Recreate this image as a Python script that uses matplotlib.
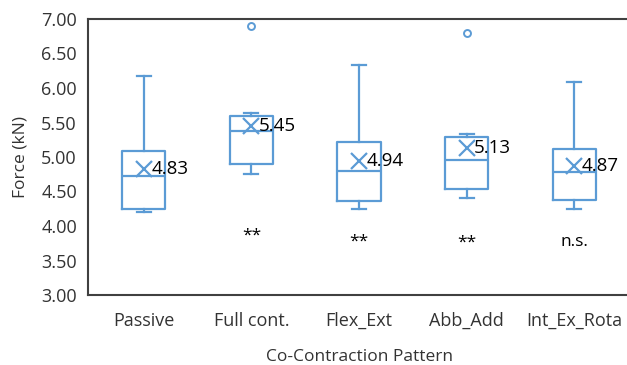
import matplotlib
matplotlib.use("Agg")
import matplotlib.pyplot as plt

plt.rcParams['font.family'] = ['Open Sans', 'DejaVu Sans']

categories = ["Passive", "Full cont.", "Flex_Ext", "Abb_Add", "Int_Ex_Rota"]
whisker_low = [4.21, 4.75, 4.25, 4.40, 4.24]
q1 = [4.25, 4.90, 4.36, 4.54, 4.37]
medians = [4.73, 5.37, 4.80, 4.95, 4.78]
q3 = [5.08, 5.60, 5.22, 5.29, 5.12]
whisker_high = [6.18, 5.64, 6.33, 5.33, 6.08]
means = [4.83, 5.45, 4.94, 5.13, 4.87]
outliers = [[], [6.90], [], [6.79], []]
significance = ["", "**", "**", "**", "n.s."]
sig_y = [3.86, 3.86, 3.77, 3.76, 3.77]

blue = "#5B9BD5"
text_col = "#333333"

fig = plt.figure(figsize=(6.27, 3.65), dpi=100)
ax = fig.add_axes([88 / 627, 1 - 295 / 365, 542 / 627, 276 / 365])

stats = []
for i, name in enumerate(categories):
    stats.append(dict(label=name, whislo=whisker_low[i], q1=q1[i], med=medians[i],
                      q3=q3[i], whishi=whisker_high[i], mean=means[i],
                      fliers=outliers[i]))

positions = list(range(1, len(categories) + 1))
line_kw = dict(color=blue, linewidth=1.6)
ax.bxp(stats, positions=positions, widths=0.40, showmeans=False,
       boxprops=line_kw, whiskerprops=line_kw, capprops=line_kw,
       medianprops=line_kw, capwidths=0.13,
       flierprops=dict(marker='o', markersize=5, markerfacecolor='none',
                       markeredgecolor=blue, markeredgewidth=1.4))

ax.plot(positions, means, linestyle='none', marker='x', markersize=11,
        markeredgewidth=1.6, color=blue)
for p, m in zip(positions, means):
    ax.text(p + 0.07, m, f"{m:.2f}", ha='left', va='center', fontsize=13.5,
            color='black')

for p, s, y in zip(positions, significance, sig_y):
    if s:
        ax.text(p, y, s, ha='center', va='center', fontsize=12.5, color='black')

ax.set_xlim(1 - 0.52, len(categories) + 0.52)
ax.set_ylim(3.0, 7.0)
ax.set_yticks([3.0, 3.5, 4.0, 4.5, 5.0, 5.5, 6.0, 6.5, 7.0])
ax.yaxis.set_major_formatter(matplotlib.ticker.FormatStrFormatter('%.2f'))
ax.set_xticks(positions)
ax.set_xticklabels(categories)
ax.tick_params(axis='both', length=0, labelsize=13, colors=text_col)
ax.tick_params(axis='y', pad=8)
ax.tick_params(axis='x', pad=12)

for sp in ax.spines.values():
    sp.set_color('#404040')
    sp.set_linewidth(1.5)

ax.set_ylabel("Force (kN)", fontsize=12.5, color=text_col, labelpad=9)
ax.set_xlabel("Co-Contraction Pattern", fontsize=12.5, color=text_col, labelpad=14)

fig.savefig("out.png", dpi=100)
